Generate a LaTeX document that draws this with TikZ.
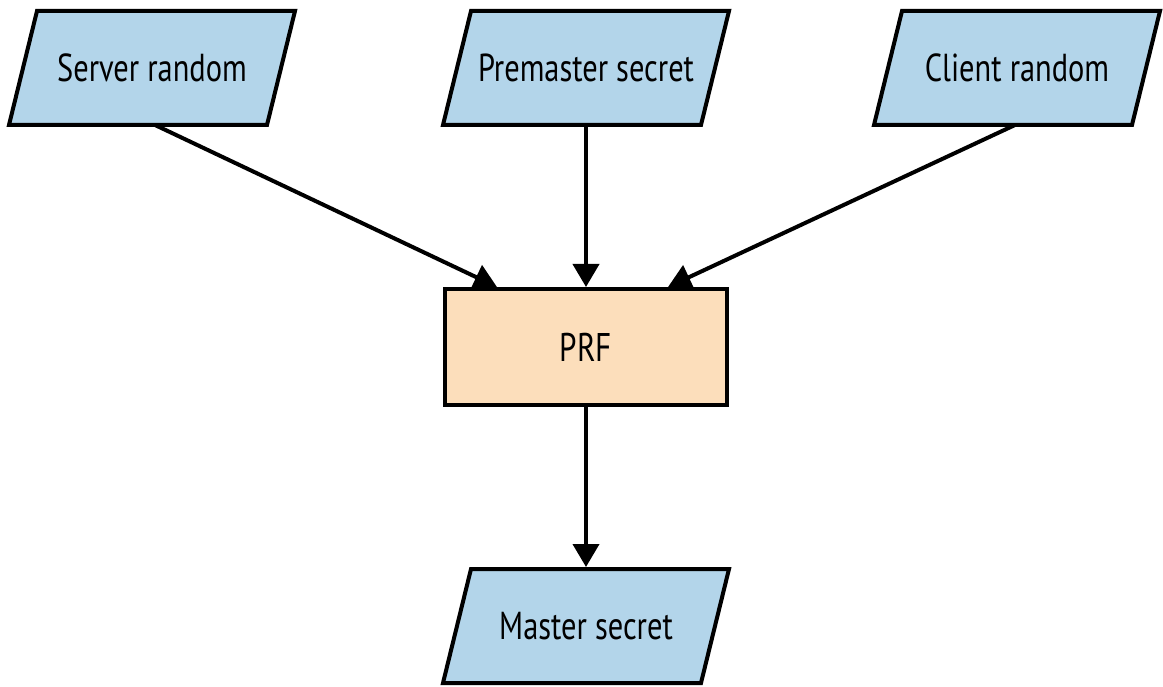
\documentclass[tikz,border=0pt]{standalone}
\usepackage{fontspec}
\setmainfont{PT Sans}[FakeStretch=0.78]
\usetikzlibrary{arrows.meta,calc,backgrounds}
\definecolor{paraBlue}{RGB}{179,213,234}
\definecolor{prfOrange}{RGB}{252,222,187}
\tikzset{
  txt/.style={shape=rectangle, inner sep=0pt, outer sep=0pt, minimum width=258pt, minimum height=114pt, font=\fontsize{39}{43}\selectfont},
  parashape/.style={draw=black, fill=paraBlue, line width=4pt, line join=miter},
  prfbox/.style={draw=black, fill=prfOrange, line width=4pt, shape=rectangle, inner sep=0pt, outer sep=0pt, minimum width=282pt, minimum height=116pt, font=\fontsize{40}{44}\selectfont},
  conn/.style={line width=4pt, -{Triangle[length=23pt,width=26pt]}},
}
\newcommand{\paraof}[1]{%
  \draw[parashape] ($(#1.center)+(-115,-57)$) -- ($(#1.center)+(143,-57)$) -- ($(#1.center)+(115,57)$) -- ($(#1.center)+(-143,57)$) -- cycle;}
\begin{document}
\begin{tikzpicture}[x=1pt,y=-1pt]
\useasboundingbox (0,0) rectangle (1163,687);
\node[txt] (srv) at (152,68) {Server random};
\node[txt] (pre) at (586,68) {Premaster secret};
\node[txt] (cli) at (1017,68) {Client random};
\node[prfbox] (prf) at (586,347) {PRF};
\node[txt] (mst) at (586,626) {Master secret};
\begin{scope}[on background layer]
\paraof{srv}
\paraof{pre}
\paraof{cli}
\paraof{mst}
\end{scope}
\draw[conn] ($(srv.south)+(3,0)$) -- ($(prf.north)+(-89,-2)$);
\draw[conn] (pre.south) -- ($(prf.north)+(0,-2)$);
\draw[conn] ($(cli.south)+(-2,0)$) -- ($(prf.north)+(82,-2)$);
\draw[conn] (prf.south) -- ($(mst.north)+(0,-2)$);
\end{tikzpicture}
\end{document}
